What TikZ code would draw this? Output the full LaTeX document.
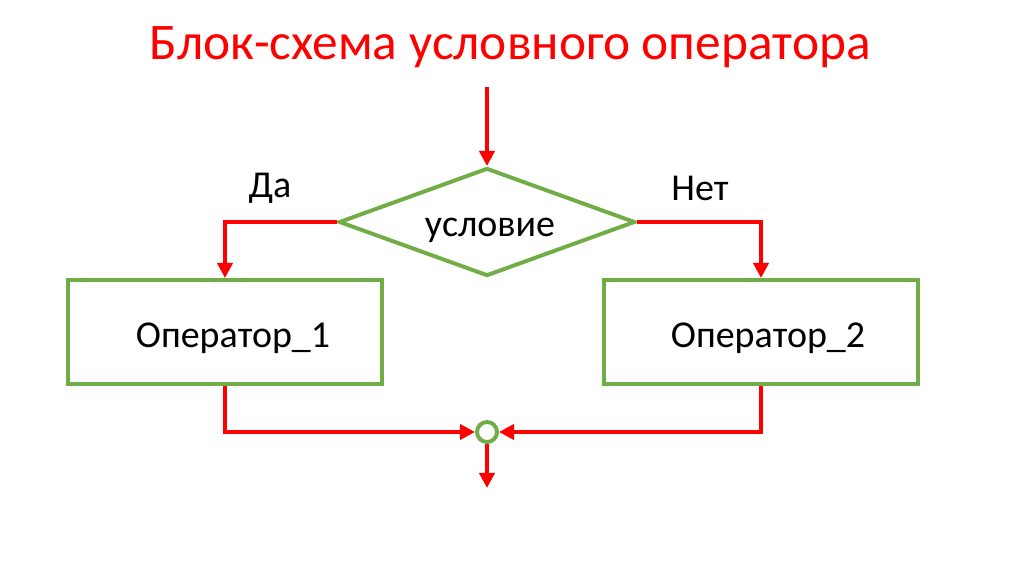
\documentclass[tikz,border=0pt]{standalone}
\usepackage{fontspec}
\setmainfont{Carlito}
\usepackage{xcolor}
\usetikzlibrary{shapes.geometric,arrows.meta,positioning}

\definecolor{flowred}{RGB}{255,0,0}
\definecolor{boxgreen}{RGB}{112,173,71}

\begin{document}
\begin{tikzpicture}[
    x=0.025cm, y=-0.025cm,
    heading/.style={font=\fontsize{36.5}{42}\selectfont, text=flowred},
    block/.style={rectangle, draw=boxgreen, line width=2.8pt, minimum width=7.85cm, minimum height=2.6cm, align=center, font=\fontsize{27}{32}\selectfont},
    cond/.style={diamond, aspect=2.7, draw=boxgreen, line width=2.8pt, minimum width=7.4cm, minimum height=2.7cm, inner sep=0pt, font=\fontsize{27}{32}\selectfont},
    joint/.style={circle, draw=boxgreen, line width=2.8pt, minimum size=0.5cm, inner sep=0pt, fill=white},
    lbl/.style={font=\fontsize{27}{32}\selectfont},
    flow/.style={draw=flowred, line width=2.8pt, -{Triangle[length=0.38cm, width=0.38cm]}}
]
\useasboundingbox (0,0) rectangle (1024,574);

% Title
\node[heading] (title) at (510,47) {Блок-схема условного оператора};

% Condition
\coordinate (start) at (487,87);
\node[cond] (check) at (487,222) {};
\node[lbl] (condtext) at (490,230) {условие};

% Branch labels
\node[lbl] (yes) at (270,188) {Да};
\node[lbl] (no) at (700,188) {Нет};

% Operators
\node[block] (op1) at (225,332) {};
\node[block] (op2) at (761,332) {};
\node[lbl] (op1text) at (233,338) {Оператор\_1};
\node[lbl] (op2text) at (768,338) {Оператор\_2};

% Merge point
\node[joint] (merge) at (487,432) {};
\coordinate (finish) at (487,488);

% Arrows
\draw[flow] (start) -- (check.north);
\draw[flow] (check.west) -| (op1.north);
\draw[flow] (check.east) -| (op2.north);
\draw[flow] (op1.south) |- (merge.west);
\draw[flow] (op2.south) |- (merge.east);
\draw[flow] (merge.south) -- (finish);

\end{tikzpicture}
\end{document}
